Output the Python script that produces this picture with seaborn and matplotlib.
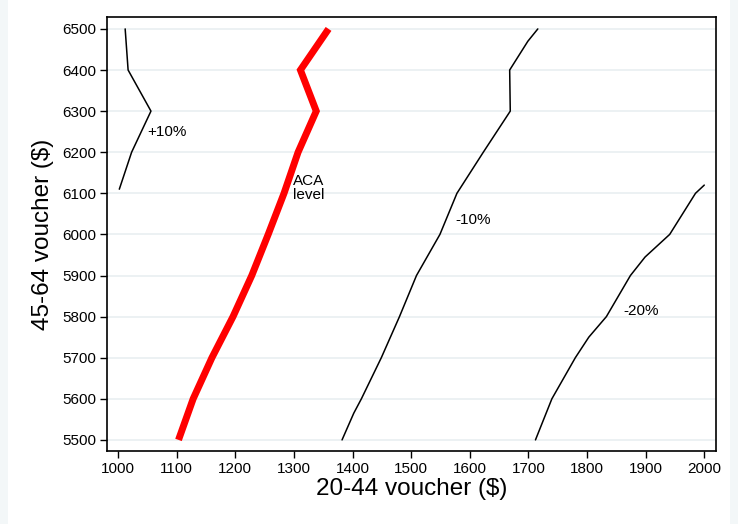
import matplotlib
matplotlib.use('Agg')
import matplotlib.pyplot as plt
import pandas as pd
import seaborn as sns
from matplotlib.patches import Rectangle

# 45-64 voucher levels (y) and matching 20-44 voucher levels (x) per contour
aca_y = [5500, 5600, 5700, 5800, 5900, 6000, 6100, 6200, 6300, 6400, 6500]
aca_x = [1103, 1128, 1160, 1196, 1228, 1256, 1283, 1307, 1338, 1311, 1359]

plus10_y = [6110, 6200, 6300, 6400, 6500]
plus10_x = [1002, 1023, 1056, 1017, 1012]

minus10_y = [5500, 5565, 5600, 5700, 5800, 5900, 6000, 6100, 6200, 6300, 6400, 6470, 6500]
minus10_x = [1382, 1402, 1415, 1449, 1480, 1509, 1549, 1578, 1623, 1669, 1668, 1699, 1716]

minus20_y = [5500, 5600, 5700, 5750, 5800, 5900, 5945, 6000, 6100, 6120]
minus20_x = [1712, 1740, 1780, 1803, 1833, 1874, 1899, 1941, 1985, 2000]

x_ticks = [1000, 1100, 1200, 1300, 1400, 1500, 1600, 1700, 1800, 1900, 2000]
y_ticks = [5500, 5600, 5700, 5800, 5900, 6000, 6100, 6200, 6300, 6400, 6500]

frames = []
for name, xs, ys in [('aca', aca_x, aca_y), ('+10', plus10_x, plus10_y),
                     ('-10', minus10_x, minus10_y), ('-20', minus20_x, minus20_y)]:
    frames.append(pd.DataFrame({'x': xs, 'y': ys, 'curve': name}))
df = pd.concat(frames, ignore_index=True)

sns.set_style('white')
plt.rcParams['font.family'] = ['Liberation Sans', 'DejaVu Sans']
plt.rcParams['text.color'] = 'black'
plt.rcParams['axes.labelcolor'] = 'black'

fig = plt.figure(figsize=(7.38, 5.24), dpi=100)
fig.patch.set_facecolor('#f3f7f8')
fig.patches.append(Rectangle((8 / 738, 0), 722 / 738, 1, transform=fig.transFigure,
                             facecolor='white', edgecolor='none', zorder=-5))
ax = fig.add_axes([107 / 738, 73 / 524, 609 / 738, 434 / 524])
ax.set_zorder(2)

for yt in y_ticks:
    ax.axhline(yt, color='#eaf0f2', lw=1.3, zorder=0)

for name in ['+10', '-10', '-20']:
    sub = df[df['curve'] == name]
    sns.lineplot(data=sub, x='x', y='y', sort=False, estimator=None, color='black',
                 lw=1.1, ax=ax)
sub = df[df['curve'] == 'aca']
sns.lineplot(data=sub, x='x', y='y', sort=False, estimator=None, color='red',
             lw=5, solid_capstyle='butt', solid_joinstyle='miter', ax=ax)

ax.text(1050, 6250, '+10%', fontsize=11, va='center')
ax.text(1299, 6112, 'ACA\nlevel', fontsize=11, va='center', linespacing=1.0)
ax.text(1576, 6035, '-10%', fontsize=11, va='center')
ax.text(1862, 5814, '-20%', fontsize=11, va='center')

ax.set_xlim(981, 2020)
ax.set_ylim(5473, 6529)
ax.set_xticks(x_ticks)
ax.set_yticks(y_ticks)
ax.tick_params(axis='both', direction='out', length=5, width=1, labelsize=11,
               left=True, bottom=True, colors='black', pad=3)
for s in ax.spines.values():
    s.set_color('black')
    s.set_linewidth(1.2)
ax.set_xlabel('20-44 voucher ($)', fontsize=17.5, labelpad=1)
ax.set_ylabel('45-64 voucher ($)', fontsize=17.5, labelpad=6)

fig.savefig('out.png', dpi=100, facecolor=fig.get_facecolor())
